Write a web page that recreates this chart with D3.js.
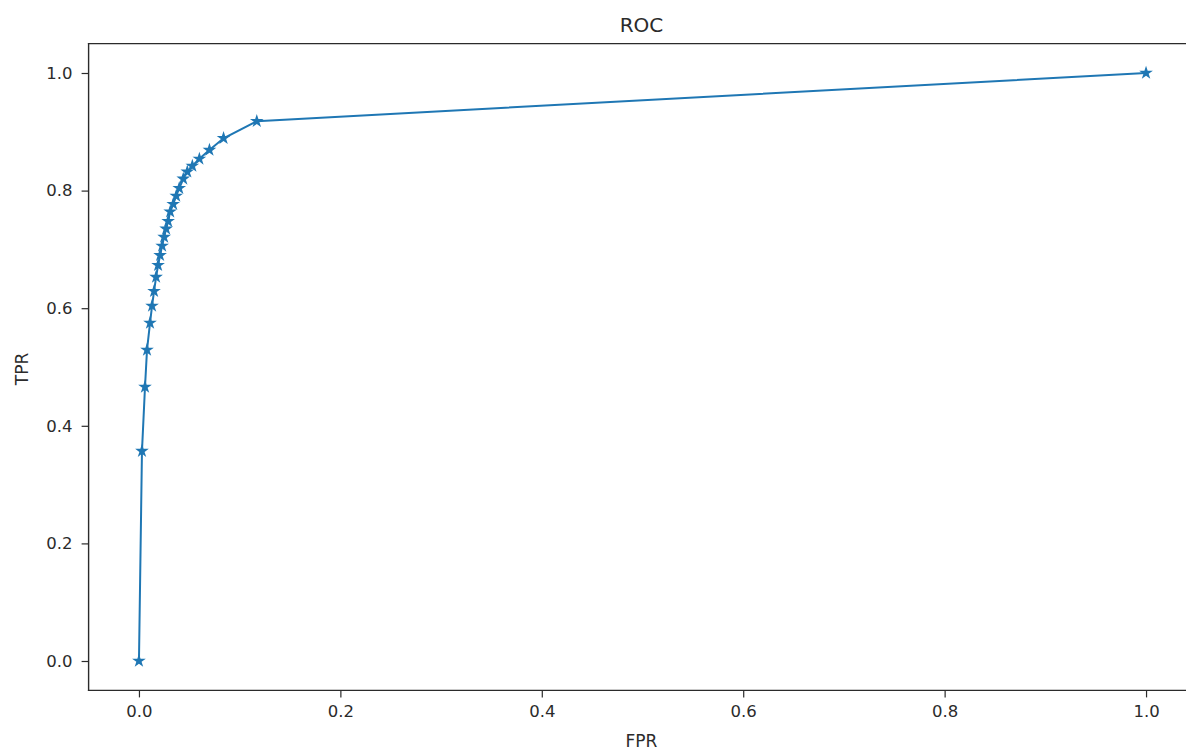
<!DOCTYPE html>
<html>
<head>
<meta charset="utf-8">
<script src="https://cdn.jsdelivr.net/npm/d3@7"></script>
<style>
  body { margin: 0; background: #fff; overflow: hidden; }
  svg { display: block; font-family: "DejaVu Sans", sans-serif; }
</style>
</head>
<body>
<svg id="chart" width="1186" height="750"></svg>
<script>
// ROC curve points
const fpr = [0, 0.003, 0.006, 0.008, 0.011, 0.013, 0.015, 0.017, 0.019, 0.021,
             0.023, 0.025, 0.027, 0.029, 0.031, 0.034, 0.037, 0.040, 0.044, 0.048,
             0.053, 0.060, 0.070, 0.084, 0.117, 1.0];
const tpr = [0, 0.357, 0.466, 0.529, 0.575, 0.604, 0.629, 0.653, 0.673, 0.690,
             0.706, 0.721, 0.735, 0.748, 0.764, 0.777, 0.791, 0.804, 0.820, 0.832,
             0.842, 0.854, 0.869, 0.889, 0.918, 1.0];
const xTicks = [0, 0.2, 0.4, 0.6, 0.8, 1.0];
const yTicks = [0, 0.2, 0.4, 0.6, 0.8, 1.0];

const points = fpr.map((f, i) => ({ x: f, y: tpr[i] }));

const svg = d3.select("#chart");
const W = 1186;
// plot box (right edge runs off the picture, like the reference)
const mLeft = 88.6, mRight = 1196.4, mTop = 43.6, mBottom = 690.4;

const x = d3.scaleLinear().domain([-0.05, 1.05]).range([mLeft, mRight]);
const y = d3.scaleLinear().domain([-0.05, 1.05]).range([mBottom, mTop]);

const blue = "#1f77b4";
const ink = "#2b2b2b";

// line
svg.append("path")
  .datum(points)
  .attr("fill", "none")
  .attr("stroke", blue)
  .attr("stroke-width", 2)
  .attr("d", d3.line().x(d => x(d.x)).y(d => y(d.y)));

// star markers
const star = d3.symbol().type(d3.symbolStar).size(58);
svg.append("g")
  .selectAll("path")
  .data(points)
  .join("path")
  .attr("transform", d => `translate(${x(d.x)},${y(d.y)})`)
  .attr("d", star)
  .attr("fill", blue);

// axes
const xAxis = d3.axisBottom(x).tickValues(xTicks).tickFormat(d3.format(".1f")).tickSize(7).tickPadding(8);
const yAxis = d3.axisLeft(y).tickValues(yTicks).tickFormat(d3.format(".1f")).tickSize(7).tickPadding(9);

const gx = svg.append("g").attr("transform", `translate(0,${mBottom})`).call(xAxis);
const gy = svg.append("g").attr("transform", `translate(${mLeft},0)`).call(yAxis);
[gx, gy].forEach(g => {
  g.select(".domain").remove();
  g.selectAll(".tick line").attr("stroke", ink).attr("stroke-width", 1.2);
  g.selectAll(".tick text").attr("fill", ink).style("font-size", "16.5px").style("font-family", "DejaVu Sans");
});

// spines: top, left, bottom (right one is off the picture)
const spines = [
  [mLeft, mTop, W, mTop],
  [mLeft, mBottom, W, mBottom],
  [mLeft, mTop, mLeft, mBottom]
];
svg.append("g")
  .selectAll("line")
  .data(spines)
  .join("line")
  .attr("x1", d => d[0]).attr("y1", d => d[1])
  .attr("x2", d => d[2]).attr("y2", d => d[3])
  .attr("stroke", ink)
  .attr("stroke-width", 1.4)
  .attr("stroke-linecap", "square");

// title and labels
svg.append("text")
  .attr("x", (mLeft + mRight) / 2 - 1).attr("y", 32)
  .attr("text-anchor", "middle")
  .attr("fill", ink)
  .style("font-size", "20px")
  .text("ROC");

svg.append("text")
  .attr("x", (mLeft + mRight) / 2 - 1).attr("y", 747)
  .attr("text-anchor", "middle")
  .attr("fill", ink)
  .style("font-size", "17px")
  .text("FPR");

svg.append("text")
  .attr("transform", `translate(28,${(mTop + mBottom) / 2 + 2}) rotate(-90)`)
  .attr("text-anchor", "middle")
  .attr("fill", ink)
  .style("font-size", "17px")
  .text("TPR");
</script>
</body>
</html>
